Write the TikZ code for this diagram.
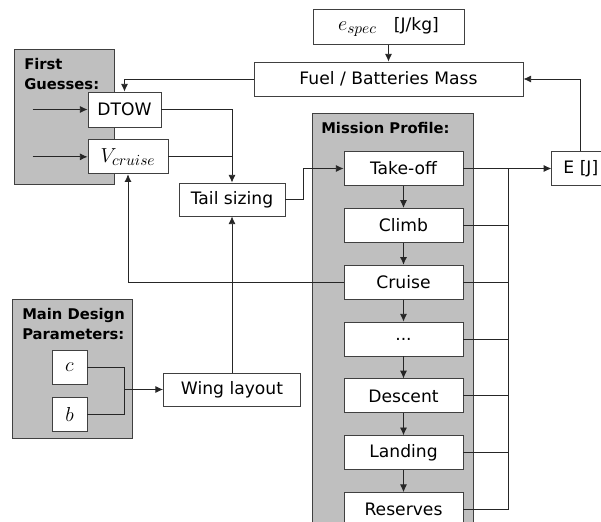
\documentclass[tikz,border=0pt]{standalone}
\usepackage{fontspec}
\setmainfont{DejaVu Sans}
\usetikzlibrary{arrows.meta,backgrounds,calc,positioning}
\tikzset{
    sizing diagram/.style = {>={Latex[length=5.5pt, width=5pt]}},
    line/.style        = {semithick, draw=black!85},
    block/.style       = {draw=black!75, semithick, fill=white, inner sep=0pt,
                          minimum height=0.85cm,
                          font=\fontsize{12.2}{14}\selectfont},
    mblock/.style      = {block, font=\fontsize{15}{17}\selectfont},
    phase/.style       = {block, minimum width=2.975cm},
    panel/.style       = {draw=black!75, semithick, fill=black!25,
                          anchor=north west, inner sep=0pt},
    panel title/.style = {anchor=north west, inner sep=0pt, align=left,
                          font=\fontsize{10.5}{14.2}\selectfont\bfseries}
}

\begin{document}
\begin{tikzpicture}[sizing diagram]
\useasboundingbox (0,0) rectangle (15.025,-13.05);
\clip (0,0) rectangle (15.025,-13.05);

% Energy and mass
\node[block, minimum width=6.725cm] (fuel) at (9.7125,-1.975)
    {Fuel / Batteries Mass};
\node[block, minimum width=3.775cm, minimum height=0.875cm,
      above=0.425cm of fuel] (espec)
    {{\fontsize{15}{17}\selectfont$e_{spec}$}\quad[J/kg]};

% First guesses
\node[block, minimum width=1.825cm, minimum height=0.875cm] (dtow)
    at (3.1125,-2.7375) {DTOW};
\node[mblock, minimum width=2cm, below=0.3cm of dtow.south west,
      anchor=north west] (vcruise) {$V_{cruise}$};

% Sizing blocks
\node[block, minimum width=2.65cm, minimum height=0.825cm] (tail)
    at (5.8,-4.9875) {Tail sizing};
\node[block, minimum width=3.425cm, minimum height=0.825cm] (wing)
    at (5.8,-9.7375) {Wing layout};

% Main design parameters
\node[mblock, minimum width=0.875cm] (c) at (1.7375,-9.175) {$c$};
\node[mblock, minimum width=0.875cm, below=0.325cm of c] (b) {$b$};

% Mission profile
\node[phase] (takeoff) at (10.0875,-4.2125) {Take-off};
\node[phase, below=0.55cm of takeoff] (climb) {Climb};
\node[phase, below=0.55cm of climb] (cruise) {Cruise};
\node[phase, below=0.55cm of cruise] (dots) {...};
\node[phase, below=0.55cm of dots] (descent) {Descent};
\node[phase, below=0.55cm of descent] (landing) {Landing};
\node[phase, below=0.55cm of landing] (reserves) {Reserves};

\node[block, minimum width=1.45cm, right=2.2cm of takeoff] (E) {E [J]};

% Inputs and feedback
\coordinate[left=1.375cm of dtow.west] (indtow);
\coordinate[left=1.375cm of vcruise.west] (invcruise);
\draw[->, line] (indtow) -- (dtow.west);
\draw[->, line] (invcruise) -- (vcruise.west);
\draw[->, line] (espec) -- (fuel);
\draw[->, line] (E.north) |- (fuel.east);
\draw[->, line] (fuel.west) -| (dtow.north);
\draw[->, line] (dtow.east) -| (tail.north);
\draw[line] (vcruise.east) -- (vcruise.east -| tail.north);
\draw[->, line] (tail.east) -- ++(0.45,0) |- (takeoff.west);
\draw[->, line] (wing) -- (tail);
\draw[->, line] (cruise.west) -| (vcruise.south);

\coordinate[left=0.975cm of wing.west] (join);
\draw[line] (c.east) -| (join) |- (b.east);
\draw[->, line] (join) -- (wing.west);

% Phase chain and energy collection
\foreach \a/\b in {takeoff/climb, climb/cruise, cruise/dots,
                   dots/descent, descent/landing, landing/reserves}
    \draw[->, line] (\a) -- (\b);
\draw[->, line] (takeoff.east) -- (E.west);
\coordinate (bus) at ($(takeoff.east)+(1.125,0)$);
\foreach \b in {climb, cruise, dots, descent, landing, reserves}
    \draw[line] (\b.east) -| (bus);

% Grey panels
\begin{scope}[on background layer]
    \node[panel, minimum width=2.5cm, minimum height=3.375cm] (guesses)
        at (0.35,-1.225) {};
    \node[panel, minimum width=4.025cm, minimum height=10.6cm] (mission)
        at (7.8,-2.825) {};
    \node[panel, minimum width=3cm, minimum height=3.475cm] (design)
        at (0.3,-7.475) {};
\end{scope}
\node[panel title] (guessestitle) at (0.6,-1.46) {First\\Guesses:};
\node[panel title] (missiontitle) at (8.025,-3.04) {Mission Profile:};
\node[panel title] (designtitle) at (0.55,-7.71) {Main Design\\Parameters:};

\end{tikzpicture}
\end{document}
